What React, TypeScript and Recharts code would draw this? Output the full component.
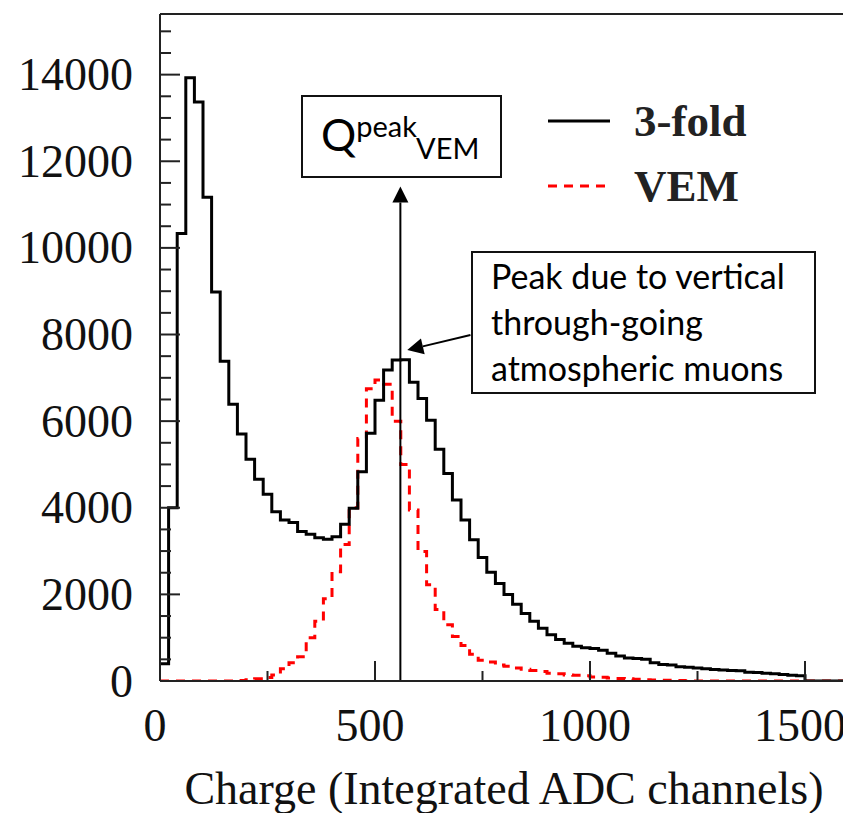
import React from 'react';
import { LineChart, Line, XAxis, YAxis, ReferenceLine, Legend } from 'recharts';

// histogram bins of 20 ADC counts, starting at 0
const BIN = 20;

const threeFold = [
  400, 4000, 10330, 13930, 13370, 11170, 8980, 7380, 6390, 5700,
  5120, 4660, 4310, 3910, 3720, 3660, 3450, 3390, 3310, 3270,
  3330, 3620, 3990, 4830, 5720, 6480, 7180, 7410, 7420, 6900,
  6520, 6020, 5350, 4790, 4180, 3720, 3260, 2850, 2510, 2250,
  2000, 1770, 1560, 1380, 1220, 1070, 960, 870, 800, 770,
  750, 710, 640, 580, 530, 520, 500, 420, 380, 370,
  330, 320, 300, 280, 265, 255, 245, 235, 200, 195,
  180, 165, 150, 135, 120, 0, 0, 0, 0, 0,
];

const vem = [
  0, 0, 0, 0, 0, 0, 0, 0, 0, 10,
  30, 50, 80, 140, 280, 420, 560, 1000, 1380, 1900,
  2520, 3150, 4000, 5600, 6750, 6950, 6850, 6000, 5000, 3950,
  2990, 2220, 1650, 1300, 1030, 820, 620, 480, 440, 370,
  340, 300, 270, 240, 220, 180, 170, 140, 130, 120,
  95, 85, 70, 60, 50, 40, 30, 25, 20, 15,
  10, 5, 0, 0, 0, 0, 0, 0, 0, 0,
  0, 0, 0, 0, 0, 0, 0, 0, 0, 0,
];

const xTicks = [0, 250, 500, 750, 1000, 1250, 1500];
const yTicks = [
  0, 500, 1000, 1500, 2000, 2500, 3000, 3500, 4000, 4500, 5000, 5500, 6000, 6500, 7000,
  7500, 8000, 8500, 9000, 9500, 10000, 10500, 11000, 11500, 12000, 12500, 13000, 13500,
  14000, 14500, 15000,
];

const X_MAX = 1600;
const Y_MAX = 15400;

// annotation anchors (data units)
const qPeak = 559;
const qArrowTop = 11420;
const muonArrowFrom = { x: 722, y: 7990 };
const muonArrowTo = { x: 575, y: 7640 };

const SERIF = '"Liberation Serif", "Times New Roman", serif';
const SANS = 'Lato, "Open Sans", sans-serif';
const AXIS = '#222';

const series = {
  threeFold: { name: '3-fold', color: '#000', dash: undefined as string | undefined },
  vem: { name: 'VEM', color: '#ff0000', dash: '9 7' },
};

const data = [
  ...threeFold.map((v, i) => ({ charge: i * BIN, threeFold: v, vem: vem[i] })),
  { charge: X_MAX, threeFold: 0, vem: 0 },
];

const YTick = ({ x, y, payload }: any) => {
  const major = payload.value % 2000 === 0;
  return (
    <g>
      <line x1={x} x2={x + (major ? 20 : 11)} y1={y} y2={y} stroke={AXIS} strokeWidth={2} />
      {major && (
        <text
          x={x - 27}
          y={y}
          textAnchor="end"
          dominantBaseline="central"
          fontFamily={SERIF}
          fontSize={46}
          fill="#111"
        >
          {payload.value}
        </text>
      )}
    </g>
  );
};

const XTick = ({ x, y, payload }: any) => {
  const major = payload.value % 500 === 0;
  return (
    <g>
      <line x1={x} x2={x} y1={y} y2={y - (major ? 20 : 10)} stroke={AXIS} strokeWidth={2} />
      {major && (
        <text
          x={x - 5}
          y={y + 44}
          textAnchor="middle"
          dominantBaseline="central"
          fontFamily={SERIF}
          fontSize={46}
          fill="#111"
        >
          {payload.value}
        </text>
      )}
    </g>
  );
};

const Arrow = ({ x1, y1, x2, y2 }: any) => {
  const a = Math.atan2(y2 - y1, x2 - x1);
  const len = 16;
  const half = 8;
  const bx = x2 - len * Math.cos(a);
  const by = y2 - len * Math.sin(a);
  const px = -Math.sin(a) * half;
  const py = Math.cos(a) * half;
  return (
    <g>
      <line x1={x1} y1={y1} x2={bx} y2={by} stroke="#000" strokeWidth={2} />
      <polygon points={`${x2},${y2} ${bx + px},${by + py} ${bx - px},${by - py}`} fill="#000" />
    </g>
  );
};

const LegendBox = ({ payload }: any) => (
  <div>
    {(payload || []).map((entry: any) => {
      const s = (series as any)[entry.dataKey];
      return (
        <div key={entry.dataKey} style={{ display: 'flex', alignItems: 'center', height: 65 }}>
          <svg width={62} height={8}>
            <line x1={0} x2={62} y1={4} y2={4} stroke={s.color} strokeWidth={3} strokeDasharray={s.dash} />
          </svg>
          <span
            style={{
              marginLeft: 24,
              fontFamily: SERIF,
              fontSize: 45,
              fontWeight: 'bold',
              color: '#222',
              lineHeight: '46px',
            }}
          >
            {s.name}
          </span>
        </div>
      );
    })}
  </div>
);

export default function App() {
  return (
    <div style={{ position: 'relative', width: 843, height: 805 }}>
      <LineChart width={843} height={805} data={data} margin={{ top: 6, right: 3, left: 0, bottom: 0 }}>
        <XAxis
          dataKey="charge"
          type="number"
          domain={[0, X_MAX]}
          ticks={xTicks}
          interval={0}
          allowDataOverflow
          height={132}
          tickSize={0}
          tickMargin={0}
          tickLine={false}
          axisLine={{ stroke: AXIS, strokeWidth: 2 }}
          tick={<XTick />}
          label={{
            value: 'Charge (Integrated ADC channels)',
            position: 'insideBottom',
            offset: 9,
            style: { fontFamily: SERIF, fontSize: 46, fill: '#111' },
          }}
        />
        <YAxis
          type="number"
          domain={[0, Y_MAX]}
          ticks={yTicks}
          interval={0}
          allowDataOverflow
          width={152}
          tickSize={0}
          tickMargin={0}
          tickLine={false}
          axisLine={{ stroke: AXIS, strokeWidth: 2 }}
          tick={<YTick />}
        />
        <ReferenceLine y={Y_MAX} stroke={AXIS} strokeWidth={2} />
        <ReferenceLine x={X_MAX} stroke={AXIS} strokeWidth={2} />
        <Line
          dataKey="vem"
          name={series.vem.name}
          type="stepAfter"
          stroke={series.vem.color}
          strokeWidth={3}
          strokeDasharray={series.vem.dash}
          dot={false}
          activeDot={false}
          isAnimationActive={false}
        />
        <Line
          dataKey="threeFold"
          name={series.threeFold.name}
          type="stepAfter"
          stroke={series.threeFold.color}
          strokeWidth={3}
          dot={false}
          activeDot={false}
          isAnimationActive={false}
        />
        <ReferenceLine
          segment={[{ x: qPeak, y: 0 }, { x: qPeak, y: qArrowTop }]}
          shape={Arrow}
        />
        <ReferenceLine
          segment={[muonArrowFrom, muonArrowTo]}
          shape={Arrow}
        />
        <Legend
          layout="vertical"
          align="center"
          verticalAlign="middle"
          content={<LegendBox />}
          wrapperStyle={{ left: 540, top: 80, width: 260, height: 130 }}
          itemSorter={(e: any) => (e.dataKey === 'threeFold' ? 0 : 1)}
        />
      </LineChart>

      <div
        style={{
          position: 'absolute',
          left: 293,
          top: 87,
          width: 201,
          height: 83,
          border: '2px solid #111',
          boxSizing: 'border-box',
          background: '#fff',
          fontFamily: SANS,
          color: '#000',
          paddingLeft: 18,
          paddingTop: 16,
          whiteSpace: 'nowrap',
        }}
      >
        <span style={{ fontSize: 44, lineHeight: '43px' }}>Q</span>
        <span style={{ fontSize: 29, position: 'relative', top: -14 }}>peak</span>
        <span style={{ fontSize: 29, position: 'relative', top: 8 }}>VEM</span>
      </div>

      <div
        style={{
          position: 'absolute',
          left: 463,
          top: 243,
          width: 345,
          height: 143,
          border: '2px solid #111',
          boxSizing: 'border-box',
          background: '#fff',
          fontFamily: SANS,
          fontSize: 34,
          lineHeight: '46px',
          color: '#000',
          paddingLeft: 18,
          whiteSpace: 'nowrap',
        }}
      >
        <div>Peak due to vertical</div>
        <div>through-going</div>
        <div>atmospheric muons</div>
      </div>
    </div>
  );
}
